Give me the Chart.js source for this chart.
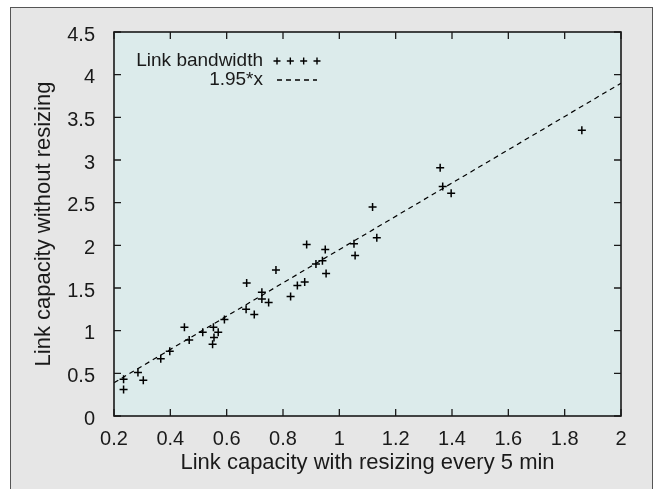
<!DOCTYPE html>
<html>
<head>
<meta charset="utf-8">
<script src="https://cdn.jsdelivr.net/npm/chart.js@4.4.1/dist/chart.umd.min.js"></script>
<style>
  html, body { margin: 0; padding: 0; background: #fff; }
</style>
</head>
<body>
<canvas id="chart" width="655" height="489"></canvas>
<script>
// Values
const linkX = [0.234, 0.234, 0.285, 0.304, 0.366, 0.398, 0.450, 0.467, 0.515, 0.553,
               0.555, 0.550, 0.570, 0.592, 0.671, 0.669, 0.698, 0.725, 0.725, 0.749,
               0.775, 0.827, 0.851, 0.877, 0.884, 0.917, 0.940, 0.950, 0.953, 1.052,
               1.056, 1.118, 1.133, 1.358, 1.367, 1.397, 1.861];
const linkY = [0.43, 0.31, 0.51, 0.42, 0.67, 0.76, 1.04, 0.89, 0.98, 1.04,
               0.92, 0.84, 0.98, 1.13, 1.56, 1.25, 1.19, 1.45, 1.37, 1.33,
               1.71, 1.40, 1.53, 1.57, 2.01, 1.78, 1.82, 1.95, 1.67, 2.02,
               1.88, 2.45, 2.09, 2.91, 2.69, 2.61, 3.35];
const fitX = [0.2, 2];
const fitY = [0.39, 3.9];

const seriesNames = ['Link bandwidth', '1.95*x'];
const xTitle = 'Link capacity with resizing every 5 min';
const yTitle = 'Link capacity without resizing';

const FONT = '"Liberation Sans", Arial, sans-serif';
const INK = '#1a1a1a';

const framePlugin = {
  id: 'frame',
  beforeDraw(chart) {
    const { ctx, chartArea: a, width, height } = chart;
    ctx.save();
    ctx.fillStyle = '#fff';
    ctx.fillRect(0, 0, width, height);
    ctx.fillStyle = '#e6e6e6';
    ctx.fillRect(10, 7, width - 12, height);
    ctx.strokeStyle = '#555';
    ctx.lineWidth = 1;
    ctx.strokeRect(10.5, 7.5, width - 13, height);
    ctx.fillStyle = '#dcebeb';
    ctx.fillRect(a.left, a.top, a.right - a.left, a.bottom - a.top);
    ctx.restore();
  },
  afterDraw(chart) {
    const { ctx, chartArea: a, scales } = chart;
    const len = 7;
    ctx.save();
    ctx.strokeStyle = INK;
    ctx.lineWidth = 1.3;
    ctx.beginPath();
    scales.x.ticks.forEach(t => {
      const px = scales.x.getPixelForValue(t.value);
      ctx.moveTo(px, a.bottom); ctx.lineTo(px, a.bottom - len);
      ctx.moveTo(px, a.top); ctx.lineTo(px, a.top + len);
    });
    scales.y.ticks.forEach(t => {
      const py = scales.y.getPixelForValue(t.value);
      ctx.moveTo(a.left, py); ctx.lineTo(a.left + len, py);
      ctx.moveTo(a.right, py); ctx.lineTo(a.right - len, py);
    });
    ctx.stroke();
    ctx.lineWidth = 1.6;
    ctx.strokeRect(a.left, a.top, a.right - a.left, a.bottom - a.top);
    ctx.restore();
  }
};

// gnuplot-style key: label, then a sample on its right
const keyPlugin = {
  id: 'key',
  afterDraw(chart) {
    const { ctx, chartArea: a } = chart;
    const textRight = a.left + 149;
    const sampleLeft = textRight + 14;
    const sampleRight = textRight + 54;
    ctx.save();
    ctx.font = '19px ' + FONT;
    ctx.fillStyle = INK;
    ctx.textAlign = 'right';
    ctx.textBaseline = 'middle';
    chart.data.datasets.forEach((ds, i) => {
      const y = a.top + 29 + i * 19;
      ctx.fillText(ds.label, textRight, y);
      ctx.strokeStyle = '#000';
      ctx.lineWidth = 1.4;
      ctx.beginPath();
      if (i === 0) {
        for (let k = 0; k < 4; k++) {
          const cx = sampleLeft + k * (sampleRight - sampleLeft) / 3;
          ctx.moveTo(cx - 3.5, y); ctx.lineTo(cx + 3.5, y);
          ctx.moveTo(cx, y - 3.5); ctx.lineTo(cx, y + 3.5);
        }
        ctx.stroke();
      } else {
        ctx.setLineDash(ds.borderDash);
        ctx.moveTo(sampleLeft, y); ctx.lineTo(sampleRight, y);
        ctx.stroke();
      }
    });
    ctx.restore();
  }
};

new Chart(document.getElementById('chart'), {
  type: 'scatter',
  data: {
    datasets: [
      {
        label: seriesNames[0],
        data: linkX.map((x, i) => ({ x, y: linkY[i] })),
        pointStyle: 'cross',
        pointRadius: 4,
        pointBorderWidth: 1.5,
        borderColor: '#000',
        backgroundColor: '#000',
      },
      {
        label: seriesNames[1],
        data: fitX.map((x, i) => ({ x, y: fitY[i] })),
        showLine: true,
        pointRadius: 0,
        borderColor: '#000',
        borderWidth: 1.2,
        borderDash: [5, 4],
      },
    ],
  },
  options: {
    responsive: false,
    devicePixelRatio: 1,
    animation: false,
    layout: { padding: { left: 0, top: 32, right: 34, bottom: 0 } },
    plugins: { legend: { display: false }, tooltip: { enabled: false } },
    scales: {
      x: {
        type: 'linear', min: 0.2, max: 2,
        grid: { display: false }, border: { display: false },
        ticks: {
          stepSize: 0.2, autoSkip: false, maxRotation: 0, padding: 3,
          color: INK, font: { family: FONT, size: 20 },
          callback: v => String(+v.toFixed(1)),
        },
        title: {
          display: true, text: xTitle, color: INK,
          font: { family: FONT, size: 22 }, padding: { top: 0, bottom: 13 },
        },
        afterFit: s => { s.height = 73; },
      },
      y: {
        type: 'linear', min: 0, max: 4.5,
        grid: { display: false }, border: { display: false },
        ticks: {
          stepSize: 0.5, padding: 11, labelOffset: 3,
          color: INK, font: { family: FONT, size: 20 },
          callback: v => String(+v.toFixed(1)),
        },
        title: {
          display: true, text: yTitle, color: INK,
          font: { family: FONT, size: 22 }, padding: { top: 31, bottom: 0 },
        },
        afterFit: s => { s.width = 114; },
      },
    },
  },
  plugins: [framePlugin, keyPlugin],
});
</script>
</body>
</html>
